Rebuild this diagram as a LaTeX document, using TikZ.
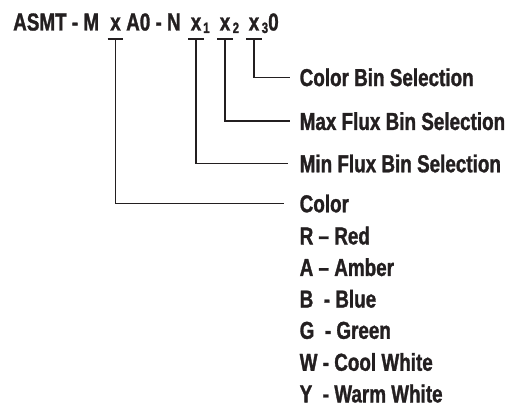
\documentclass[tikz,border=0pt]{standalone}
\usepackage{fontspec}
\setmainfont{Liberation Sans}[FakeStretch=0.77, BoldFeatures={FakeBold=1.2}]
\usetikzlibrary{positioning}
\definecolor{inkgray}{HTML}{231F20}

\begin{document}
\begin{tikzpicture}[x=1pt,y=-1pt,
	code/.style={font=\fontsize{24.5}{28}\selectfont\bfseries, text=inkgray, inner sep=0pt, anchor=base west},
	digit/.style={code, anchor=base, inner xsep=2.5pt, text depth=8.5pt},
	subdigit/.style={code, font=\fontsize{15}{17}\selectfont\bfseries},
	lbl/.style={code, anchor=west},
	lead/.style={draw=inkgray, line width=1.4pt}]
	\useasboundingbox (0,0) rectangle (512,409);
	% part number
	\node [code] (pre) at (13,30.5) {ASMT - M};
	\node [digit] (xm) at (115.5,30.5) {x};
	\node [code] (mid) at (126,30.5) {A0 - N};
	\node [digit] (xa) at (196,30.5) {x};
	\node [subdigit] (sa) at (203,33) {1};
	\node [digit] (xb) at (225,30.5) {x};
	\node [subdigit] (sb) at (232.5,33) {2};
	\node [digit] (xc) at (254,30.5) {x};
	\node [subdigit] (sc) at (261.5,33) {3};
	\node [code] (tail) at (268,30.5) {0};
	%
	\node [lbl] (cbin) at (299.5,77.3) {Color Bin Selection};
	\node [lbl] (xbin) at (299.5,121.2) {Max Flux Bin Selection};
	\node [lbl] (nbin) at (299.5,163.5) {Min Flux Bin Selection};
	\node [lbl] (col) at (299.5,203.5) {Color};
	\foreach \i/\txt in {1/{R -- Red}, 2/{A -- Amber}, 3/{B\ \ - Blue}, 4/{G\ \ - Green}, 5/{W - Cool White}, 6/{Y\ \ - Warm White}}
		\node [lbl] (c\i) at (299.5,204+31.6*\i) {\txt};
	% leaders
	\foreach \src/\dst/\gap in {xc/cbin/10, xb/xbin/10, xa/nbin/12, xm/col/16} {
		\draw [lead] (\src.south west) -- (\src.south east);
		\draw [lead] (\src.south) |- ([xshift=-\gap pt]\dst.west);
	}
\end{tikzpicture}
\end{document}
